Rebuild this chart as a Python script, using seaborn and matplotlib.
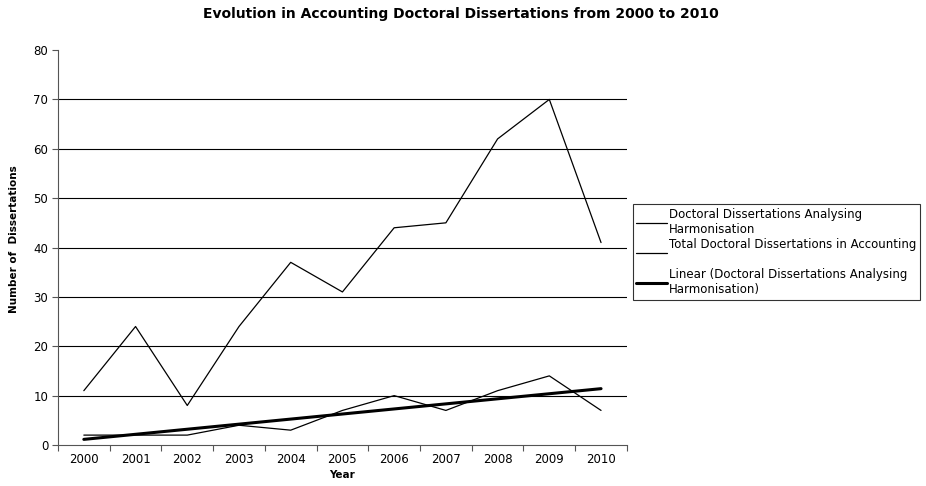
import numpy as np
import pandas as pd
import matplotlib
matplotlib.use("Agg")
import matplotlib.pyplot as plt
from matplotlib.ticker import FixedLocator, NullFormatter
import seaborn as sns

years = ["2000", "2001", "2002", "2003", "2004", "2005", "2006", "2007", "2008", "2009", "2010"]
harmonisation = [2, 2, 2, 4, 3, 7, 10, 7, 11, 14, 7]
total_accounting = [11, 24, 8, 24, 37, 31, 44, 45, 62, 70, 41]
y_ticks = [0, 10, 20, 30, 40, 50, 60, 70, 80]

sns.set_theme(style="white")
plt.rcParams['font.family'] = ['DejaVu Sans']
plt.rcParams['text.color'] = 'black'
plt.rcParams['axes.labelcolor'] = 'black'
plt.rcParams['xtick.color'] = 'black'
plt.rcParams['ytick.color'] = 'black'

df = pd.DataFrame({"Year": years, "Harm": harmonisation, "Total": total_accounting})
idx = np.arange(len(years))
coef = np.polyfit(idx, np.array(harmonisation, dtype=float), 1)
df["Trend"] = np.polyval(coef, idx)

fig = plt.figure(figsize=(9.26, 4.86), dpi=100)
ax = fig.add_axes([0.0626, 0.0844, 0.6144, 0.8126])

for yv in y_ticks[1:-1]:
    ax.axhline(yv, color="black", lw=0.8, zorder=0)

sns.lineplot(data=df, x="Year", y="Harm", ax=ax, color="black", lw=0.9,
             label="Doctoral Dissertations Analysing\nHarmonisation", sort=False)
sns.lineplot(data=df, x="Year", y="Total", ax=ax, color="black", lw=0.9,
             label="Total Doctoral Dissertations in Accounting\n ", sort=False)
sns.lineplot(data=df, x="Year", y="Trend", ax=ax, color="black", lw=2.2,
             label="Linear (Doctoral Dissertations Analysing\nHarmonisation)", sort=False)

ax.set_xlim(-0.5, len(years) - 0.5)
ax.set_ylim(0, 80)
ax.set_yticks(y_ticks)
ax.set_yticklabels([str(v) for v in y_ticks], fontsize=8.5)
ax.set_xticks(idx)
ax.set_xticklabels(years, fontsize=8.5)
ax.tick_params(axis="x", which="major", length=0, pad=6, labelcolor="black")
ax.xaxis.set_minor_locator(FixedLocator(np.arange(-0.5, len(years), 1.0)))
ax.xaxis.set_minor_formatter(NullFormatter())
ax.tick_params(axis="x", which="minor", length=4, color="#555555", width=0.8, bottom=True)
ax.tick_params(axis="y", length=4, color="#555555", width=0.8, left=True, pad=3, labelcolor="black")

for s in ["top", "right"]:
    ax.spines[s].set_visible(False)
for s in ["left", "bottom"]:
    ax.spines[s].set_color("#555555")
    ax.spines[s].set_linewidth(0.8)

ax.set_xlabel("Year", fontsize=7.5, fontweight="bold", labelpad=3, color="black")
ax.set_ylabel("Number of  Dissertations", fontsize=7.5, fontweight="bold", labelpad=10,
              color="black")
ax.yaxis.set_label_coords(-0.068, 0.52)

fig.suptitle("Evolution in Accounting Doctoral Dissertations from 2000 to 2010",
             fontsize=10, fontweight="bold", y=0.985, x=0.498, color="black")

ax.get_legend().remove()
handles, labels = ax.get_legend_handles_labels()
leg = fig.legend(handles, labels, loc="upper left", bbox_to_anchor=(0.6835, 0.58),
                 fontsize=8.5, frameon=True, fancybox=False, edgecolor="black",
                 handlelength=2.6, handletextpad=0.15, labelspacing=0.2,
                 borderpad=0.3, borderaxespad=0)
leg.get_frame().set_linewidth(0.8)
for t in leg.get_texts():
    t.set_color("black")

fig.savefig("out.png", dpi=100)
